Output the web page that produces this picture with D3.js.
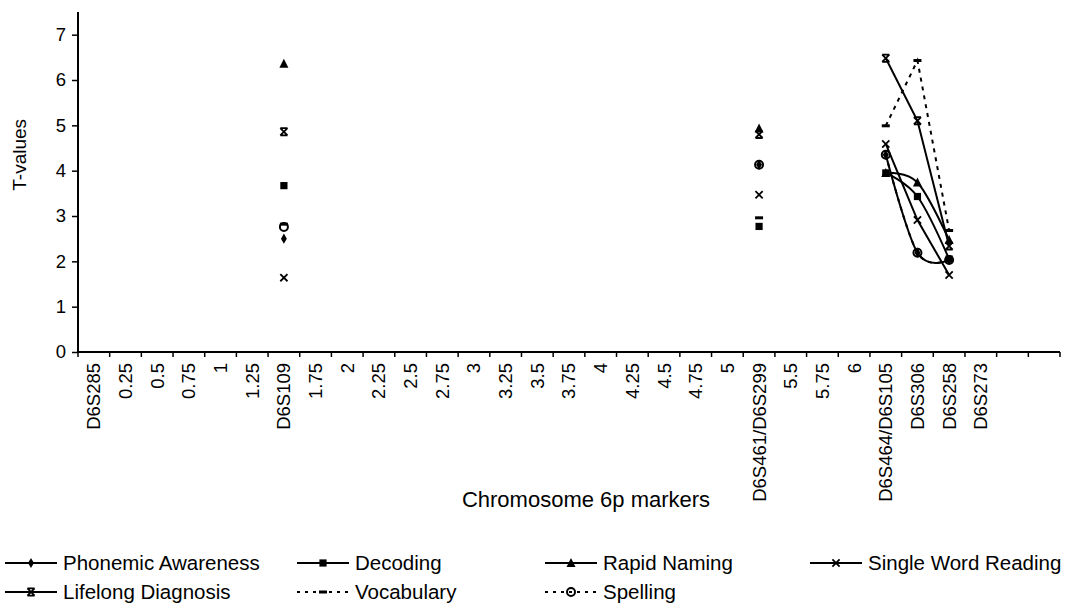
<!DOCTYPE html>
<meta charset="utf-8">
<style>

body {
  margin: 0;
  background: #fff;
}

text {
  font-family: "Liberation Sans", Arial, sans-serif;
  fill: #000;
}

.tick text {
  font-size: 18.5px;
}

.legend text {
  font-size: 20.5px;
}

.title {
  font-size: 19px;
}

</style>
<body>
<script src="https://cdn.jsdelivr.net/npm/d3@7"></script>
<script>

// category axis (31 slots, last two empty)
var categories = ["D6S285", "0.25", "0.5", "0.75", "1", "1.25", "D6S109", "1.75", "2",
	"2.25", "2.5", "2.75", "3", "3.25", "3.5", "3.75", "4", "4.25", "4.5", "4.75", "5",
	"D6S461/D6S299", "5.5", "5.75", "6", "D6S464/D6S105", "D6S306", "D6S258", "D6S273", "", ""];

// markers where values were measured
var markers = ["D6S109", "D6S461/D6S299", "D6S464/D6S105", "D6S306", "D6S258"];

var phonemic    = [2.50, 4.13, 4.35, 2.19, 2.03],
	decoding    = [3.67, 2.77, 3.95, 3.43, 2.05],
	rapidNaming = [6.36, 4.93, 3.95, 3.74, 2.47],
	singleWord  = [1.64, 3.47, 4.59, 2.91, 1.70],
	lifelong    = [4.86, 4.80, 6.48, 5.10, 2.34],
	vocabulary  = [2.82, 2.96, 4.99, 6.43, 2.68],
	spelling    = [2.76, 4.13, 4.35, 2.19, 2.03];

var yTicks = [0, 1, 2, 3, 4, 5, 6, 7];

var series = [
	{name: "Phonemic Awareness", values: phonemic, marker: "diamond", dash: null, smooth: true},
	{name: "Decoding", values: decoding, marker: "square", dash: null, smooth: true},
	{name: "Rapid Naming", values: rapidNaming, marker: "triangle", dash: null, smooth: true},
	{name: "Single Word Reading", values: singleWord, marker: "cross", dash: null, smooth: false},
	{name: "Lifelong Diagnosis", values: lifelong, marker: "star", dash: null, smooth: false},
	{name: "Vocabulary", values: vocabulary, marker: "dash", dash: "4,5", smooth: false},
	{name: "Spelling", values: spelling, marker: "circle", dash: "4,5", smooth: true}
];

var width = 1065,
	height = 604,
	margin = {top: 12, left: 78, right: 5, bottom: 252};

var svg = d3.select("body").append("svg")
	.attr("width", width)
	.attr("height", height);

var x = d3.scaleBand()
	.domain(d3.range(categories.length))
	.range([margin.left, width - margin.right])
	.padding(0);

var y = d3.scaleLinear()
	.domain([0, 7.5])
	.range([height - margin.bottom, margin.top]);

// y axis
var yAxis = svg.append("g")
	.attr("transform", "translate(" + margin.left + ",0)")
	.call(d3.axisLeft(y).tickValues(yTicks).tickSize(6).tickPadding(6).tickFormat(d3.format("d")));
yAxis.select(".domain").attr("d", "M0," + y(7.5) + "V" + y(0)).attr("stroke-width", 2);
yAxis.selectAll(".tick line").attr("stroke-width", 1.5);

// x axis: labels centered in bands, ticks between categories
var xAxis = svg.append("g")
	.attr("transform", "translate(0," + y(0) + ")")
	.call(d3.axisBottom(x).tickSize(0).tickPadding(0).tickFormat(function(i) { return categories[i]; }));
xAxis.select(".domain").attr("d", "M" + margin.left + ",0H" + (width - margin.right)).attr("stroke-width", 2);
xAxis.selectAll(".tick text")
	.attr("transform", "rotate(-90)")
	.attr("x", -11)
	.attr("y", 0)
	.attr("dy", "0.35em")
	.style("text-anchor", "end");

var bounds = d3.range(categories.length).map(function(i) { return x(i); }).concat([width - margin.right]);
xAxis.selectAll(".btick")
	.data(bounds)
	.enter().append("line")
	.attr("x1", function(d) { return d; })
	.attr("x2", function(d) { return d; })
	.attr("y1", 0)
	.attr("y2", 5)
	.attr("stroke", "#000")
	.attr("stroke-width", 1.5);

// axis titles
svg.append("text")
	.attr("class", "title")
	.attr("transform", "translate(26," + y(4.35) + ") rotate(-90)")
	.attr("text-anchor", "middle")
	.text("T-values");

svg.append("text")
	.attr("class", "title")
	.attr("x", 586)
	.attr("y", 507)
	.attr("text-anchor", "middle")
	.style("font-size", "22px")
	.text("Chromosome 6p markers");

function cx(i) { return x(i) + x.bandwidth() / 2; }

function drawMarker(g, type, px, py) {
	var s = 3.6;
	if (type == "diamond") {
		g.append("path").attr("d", d3.symbol(d3.symbolDiamond, 30)()).attr("transform", "translate(" + px + "," + py + ")").attr("fill", "#000");
	} else if (type == "square") {
		g.append("rect").attr("x", px - s).attr("y", py - s).attr("width", 2 * s).attr("height", 2 * s).attr("fill", "#000");
	} else if (type == "triangle") {
		g.append("path").attr("d", "M" + px + "," + (py - 5) + "L" + (px + 4.5) + "," + (py + 4) + "L" + (px - 4.5) + "," + (py + 4) + "Z").attr("fill", "#000");
	} else if (type == "cross") {
		g.append("path").attr("d", "M" + (px - s) + "," + (py - s) + "L" + (px + s) + "," + (py + s) + "M" + (px + s) + "," + (py - s) + "L" + (px - s) + "," + (py + s))
			.attr("stroke", "#000").attr("stroke-width", 1.8).attr("fill", "none");
	} else if (type == "star") {
		g.append("path").attr("d", "M" + (px - s) + "," + (py - s) + "L" + (px + s) + "," + (py + s) + "M" + (px + s) + "," + (py - s) + "L" + (px - s) + "," + (py + s) +
			"M" + (px - s) + "," + (py - s) + "H" + (px + s) + "M" + (px - s) + "," + (py + s) + "H" + (px + s))
			.attr("stroke", "#000").attr("stroke-width", 1.8).attr("fill", "none");
	} else if (type == "dash") {
		g.append("rect").attr("x", px - 4).attr("y", py - 1.5).attr("width", 8).attr("height", 3).attr("fill", "#000");
	} else if (type == "circle") {
		g.append("circle").attr("cx", px).attr("cy", py).attr("r", 4).attr("fill", "none").attr("stroke", "#000").attr("stroke-width", 2);
	}
}

// series
var plot = svg.append("g");
series.forEach(function(s) {
	var full = categories.map(function(c, i) {
		var k = markers.indexOf(c);
		return {i: i, v: k < 0 ? null : s.values[k]};
	});
	var line = d3.line()
		.defined(function(d) { return d.v != null; })
		.x(function(d) { return cx(d.i); })
		.y(function(d) { return y(d.v); })
		.curve(s.smooth ? d3.curveCardinal.tension(0) : d3.curveLinear);
	plot.append("path")
		.datum(full)
		.attr("d", line)
		.attr("fill", "none")
		.attr("stroke", "#000")
		.attr("stroke-width", 2)
		.attr("stroke-dasharray", s.dash);
	full.filter(function(d) { return d.v != null; }).forEach(function(d) {
		drawMarker(plot, s.marker, cx(d.i), y(d.v));
	});
});

// legend, two rows
var legendCols = [5, 297, 545, 810];
var legend = svg.append("g").attr("class", "legend");
series.forEach(function(s, k) {
	var lx = legendCols[k % 4],
		ly = k < 4 ? 563 : 592;
	legend.append("line")
		.attr("x1", lx).attr("x2", lx + 52)
		.attr("y1", ly).attr("y2", ly)
		.attr("stroke", "#000")
		.attr("stroke-width", 2)
		.attr("stroke-dasharray", s.dash ? "3,5" : null);
	drawMarker(legend, s.marker, lx + 26, ly);
	legend.append("text")
		.attr("x", lx + 58)
		.attr("y", ly)
		.attr("dy", "0.35em")
		.text(s.name);
});

</script>
</body>
</html>
